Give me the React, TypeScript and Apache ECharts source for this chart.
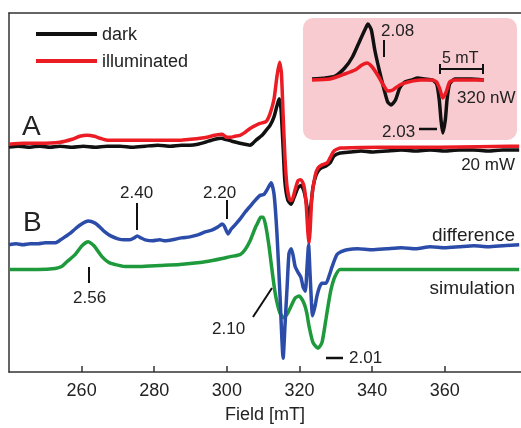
import React, { useEffect, useRef } from 'react';
import * as echarts from 'echarts';

const FONT = '"Liberation Sans", Arial, Helvetica, sans-serif';

// Main axis ticks (mT)
const fieldTicks = [260, 280, 300, 320, 340, 360];

// A: dark spectrum (field mT, intensity a.u.)
const darkData: [number, number][] = [
  [240.0, 228], [242.5, 229], [245.8, 228], [248.5, 229], [251.3, 228], [254.0, 229], [257.4, 228], [260.5, 229],
  [263.7, 228], [267.0, 229], [270.6, 229], [274.0, 228], [277.5, 229], [281.0, 230], [284.5, 229], [287.5, 230],
  [289.8, 230], [292.0, 231], [294.0, 233], [296.7, 236], [298.5, 237], [299.5, 236], [301.4, 234], [303.6, 232],
  [305.0, 231], [306.4, 230], [307.2, 232], [308.0, 235], [309.7, 240], [310.8, 245], [311.9, 250], [313.0, 259],
  [313.8, 270], [314.4, 277], [314.9, 267], [315.5, 227], [316.0, 192], [316.8, 174], [317.7, 170], [318.5, 177],
  [319.6, 187], [320.4, 189], [321.2, 184], [322.1, 167], [322.6, 152], [323.1, 167], [323.7, 187], [324.6, 200],
  [325.6, 206], [327.3, 209], [328.4, 212], [329.5, 219], [331.2, 222], [334.0, 223], [337.0, 224], [340.0, 223],
  [344.0, 224], [348.0, 225], [352.0, 224], [356.0, 225], [360.0, 224], [364.0, 225], [368.0, 225], [372.0, 224],
  [376.0, 225], [380.5, 225],
];

// A: illuminated spectrum
const illuminatedData: [number, number][] = [
  [240.0, 231], [244.0, 232], [248.5, 232], [254.0, 233], [257.4, 236], [259.5, 239], [261.5, 240], [263.5, 239],
  [265.1, 237], [267.0, 235], [269.2, 235], [274.0, 235], [278.8, 235], [283.0, 235], [287.1, 235], [290.0, 236],
  [292.6, 237], [294.5, 238], [296.7, 240], [298.7, 241], [300.0, 238], [301.0, 238], [302.2, 239], [303.6, 240],
  [305.0, 243], [306.4, 247], [309.1, 252], [310.8, 254], [311.9, 262], [313.0, 277], [313.8, 300], [314.5, 314],
  [315.0, 304], [315.5, 260], [316.0, 217], [316.6, 187], [317.4, 174], [317.9, 174], [318.8, 185], [319.6, 194],
  [320.4, 195], [321.2, 189], [321.8, 172], [322.3, 142], [322.6, 130], [322.9, 142], [323.4, 177], [324.3, 199],
  [325.1, 207], [326.2, 210], [327.6, 212], [328.4, 217], [329.5, 224], [331.2, 227], [342.2, 228], [358.7, 228],
  [380.5, 229],
];

// B: difference spectrum
const differenceData: [number, number][] = [
  [240.0, 129], [242.0, 130], [243.8, 129], [245.8, 130], [248.0, 130], [250.0, 131], [252.7, 131], [254.2, 134],
  [255.4, 137], [257.0, 141], [258.2, 145], [260.0, 150], [261.8, 153], [263.7, 151], [265.0, 147], [266.4, 142],
  [268.0, 138], [270.0, 135], [271.8, 134], [273.3, 134], [274.5, 136], [275.3, 138], [276.3, 136], [277.5, 134],
  [279.5, 133], [281.5, 134], [283.0, 133], [285.0, 134], [287.5, 136], [289.8, 137], [292.0, 139], [294.0, 142],
  [296.0, 144], [297.5, 147], [298.7, 150], [299.3, 148], [300.3, 140], [301.2, 145], [302.2, 149], [303.6, 155],
  [305.0, 162], [306.4, 168], [307.8, 174], [309.1, 179], [310.2, 180], [311.1, 185], [312.2, 192], [313.0, 180],
  [313.8, 140], [314.6, 80], [315.5, 14], [316.0, 47], [316.6, 87], [317.1, 120], [317.7, 125], [318.2, 119],
  [318.8, 107], [319.6, 101], [320.4, 96], [321.0, 86], [321.6, 82], [322.1, 108], [322.5, 129], [322.9, 100],
  [323.3, 70], [323.6, 57], [324.3, 67], [324.8, 77], [325.5, 86], [326.2, 90], [327.3, 90], [328.2, 98],
  [329.0, 107], [330.3, 119], [331.5, 122], [333.1, 124], [336.0, 125], [340.0, 124], [344.0, 125], [348.0, 126],
  [352.0, 125], [356.0, 127], [360.0, 126], [364.0, 127], [368.0, 128], [372.0, 127], [376.0, 128], [380.5, 129],
];

// B: simulation
const simulationData: [number, number][] = [
  [240.0, 104], [248.0, 104], [252.7, 105], [254.5, 107], [256.0, 112], [258.2, 119], [260.1, 128], [261.8, 132],
  [263.4, 128], [265.6, 117], [267.5, 111], [269.2, 109], [271.9, 107], [276.0, 107], [281.6, 108], [287.0, 109],
  [292.6, 111], [296.0, 113], [298.7, 115], [301.0, 117], [303.6, 119], [305.0, 124], [306.4, 133], [307.8, 146],
  [308.6, 152], [309.3, 157], [310.0, 157], [310.6, 150], [311.1, 140], [311.7, 125], [312.2, 110], [313.3, 80],
  [314.6, 60], [315.7, 55], [316.8, 60], [318.8, 75], [319.9, 77], [321.2, 70], [322.0, 60], [322.6, 47],
  [323.7, 30], [325.1, 24], [326.2, 30], [327.3, 54], [328.0, 70], [328.7, 84], [329.8, 97], [331.2, 104],
  [340.0, 104], [360.0, 104], [380.5, 104],
];

// Inset (320 nW): relative field (mT) vs intensity
const insetDarkData: [number, number][] = [
  [0.0, 61], [1.5, 62], [2.7, 64], [3.8, 72], [4.7, 83], [5.6, 100], [6.3, 113], [6.5, 116], [6.9, 110],
  [7.3, 90], [7.9, 67], [8.4, 50], [8.8, 38], [9.2, 35], [9.7, 40], [10.2, 52], [10.8, 58], [11.6, 60],
  [12.3, 62], [13.1, 61], [14.0, 60], [14.5, 56], [14.8, 40], [15.0, 20], [15.2, 7], [15.5, 20], [15.7, 40],
  [16.0, 56], [16.6, 61], [18.4, 61], [20.0, 60],
];
const insetIlluminatedData: [number, number][] = [
  [0.0, 60], [2.1, 61], [3.8, 66], [5.0, 70], [5.8, 75], [6.4, 77], [7.0, 73], [7.7, 64], [8.3, 55],
  [8.8, 49], [9.4, 50], [10.2, 55], [11.2, 58], [12.6, 60], [14.0, 60], [14.5, 58], [14.9, 50], [15.2, 42],
  [15.6, 48], [16.0, 58], [16.6, 60], [20.0, 60],
];

const BLACK = '#111111';
const RED = '#ec1c24';
const BLUE = '#2b4ca8';
const GREEN = '#1e9a3c';
const AXIS = '#333333';
const TEXT = '#222222';

function lineSeries(name: string, data: [number, number][], color: string, gridIdx: number, z: number, smooth = 0.2, width = 3.5) {
  return {
    type: 'line',
    name,
    data,
    xAxisIndex: gridIdx === 0 ? 0 : 2,
    yAxisIndex: gridIdx,
    showSymbol: false,
    symbol: 'none',
    smooth,
    z,
    itemStyle: { color },
    lineStyle: { color, width },
    emphasis: { disabled: true },
  };
}

function txt(text: string, x: number, y: number, fontSize: number, align: string = 'left') {
  return {
    type: 'text',
    x,
    y,
    z: 100,
    style: { text, fontSize, fontFamily: FONT, fill: TEXT, align, verticalAlign: 'middle' },
  };
}
function seg(x1: number, y1: number, x2: number, y2: number, w = 2) {
  return { type: 'line', z: 100, shape: { x1, y1, x2, y2 }, style: { stroke: BLACK, lineWidth: w } };
}

export default function App() {
  const ref = useRef<HTMLDivElement>(null);
  useEffect(() => {
    if (!ref.current) return;
    const chart = echarts.init(ref.current, undefined, { renderer: 'svg' });
    const axisLine = { show: true, onZero: false, lineStyle: { color: AXIS, width: 1.5 } };
    chart.setOption({
      animation: false,
      textStyle: { fontFamily: FONT },
      grid: [
        { left: 9, right: 0, top: 13, bottom: 51 },
        { left: 312, top: 18, width: 172, height: 122 },
      ],
      legend: {
        data: ['dark', 'illuminated'],
        orient: 'vertical',
        left: 36,
        top: 25,
        padding: 0,
        itemWidth: 61,
        itemHeight: 4,
        itemGap: 9,
        icon: 'rect',
        selectedMode: false,
        textStyle: { fontSize: 18, color: TEXT, fontFamily: FONT },
      },
      xAxis: [
        {
          gridIndex: 0, type: 'value', min: 240, max: 381, interval: 20, position: 'bottom',
          name: 'Field [mT]', nameLocation: 'middle', nameGap: 33,
          nameTextStyle: { fontSize: 18, color: TEXT, fontFamily: FONT },
          axisLine,
          axisTick: { show: true, inside: true, length: 6, customValues: fieldTicks, lineStyle: { color: AXIS, width: 1.5 } },
          axisLabel: {
            fontSize: 18, color: TEXT, margin: 9, fontFamily: FONT, customValues: fieldTicks,
            formatter: (v: number) => (fieldTicks.includes(v) ? String(v) : ''),
          },
          splitLine: { show: false },
        },
        {
          gridIndex: 0, type: 'value', min: 240, max: 381, position: 'top',
          axisLine, axisTick: { show: false }, axisLabel: { show: false }, splitLine: { show: false },
        },
        { gridIndex: 1, type: 'value', min: 0, max: 20, show: false },
      ],
      yAxis: [
        {
          gridIndex: 0, type: 'value', min: 0, max: 364,
          axisLine, axisTick: { show: false }, axisLabel: { show: false }, splitLine: { show: false },
        },
        { gridIndex: 1, type: 'value', min: 0, max: 122, show: false },
      ],
      graphic: [
        { type: 'rect', z: 0, shape: { x: 303, y: 18, width: 214, height: 122, r: 10 }, style: { fill: '#f8cbd1' } },
        txt('A', 22, 125, 28),
        txt('B', 23, 221, 28),
        txt('20 mW', 515, 164, 17, 'right'),
        txt('difference', 515, 234, 19, 'right'),
        txt('simulation', 515, 287, 19, 'right'),
        txt('2.40', 120, 192, 17),
        seg(137, 203, 137, 230),
        txt('2.20', 203, 192, 17),
        seg(227, 200, 227, 219),
        txt('2.56', 73, 297, 17),
        seg(89, 267, 89, 283),
        txt('2.10', 212, 328, 17),
        seg(253, 317, 272, 288),
        txt('2.01', 349, 357, 17),
        seg(326, 358, 343, 358, 2.5),
        txt('2.08', 381, 30, 17),
        seg(384, 40, 384, 57),
        txt('2.03', 382, 131, 17),
        seg(419, 129, 437, 129, 2.5),
        txt('5 mT', 442, 57, 16),
        seg(440, 69, 483, 69),
        seg(440, 64, 440, 74),
        seg(483, 64, 483, 74),
        txt('320 nW', 457, 97, 17),
      ],
      series: [
        lineSeries('dark', darkData, BLACK, 0, 3),
        lineSeries('illuminated', illuminatedData, RED, 0, 4),
        lineSeries('simulation', simulationData, GREEN, 0, 3),
        lineSeries('difference', differenceData, BLUE, 0, 4),
        lineSeries('dark', insetDarkData, BLACK, 1, 5),
        lineSeries('illuminated', insetIlluminatedData, RED, 1, 6),
      ],
    });
    return () => chart.dispose();
  }, []);
  return <div ref={ref} style={{ position: 'fixed', left: 0, top: 0, width: 521, height: 428 }} />;
}
